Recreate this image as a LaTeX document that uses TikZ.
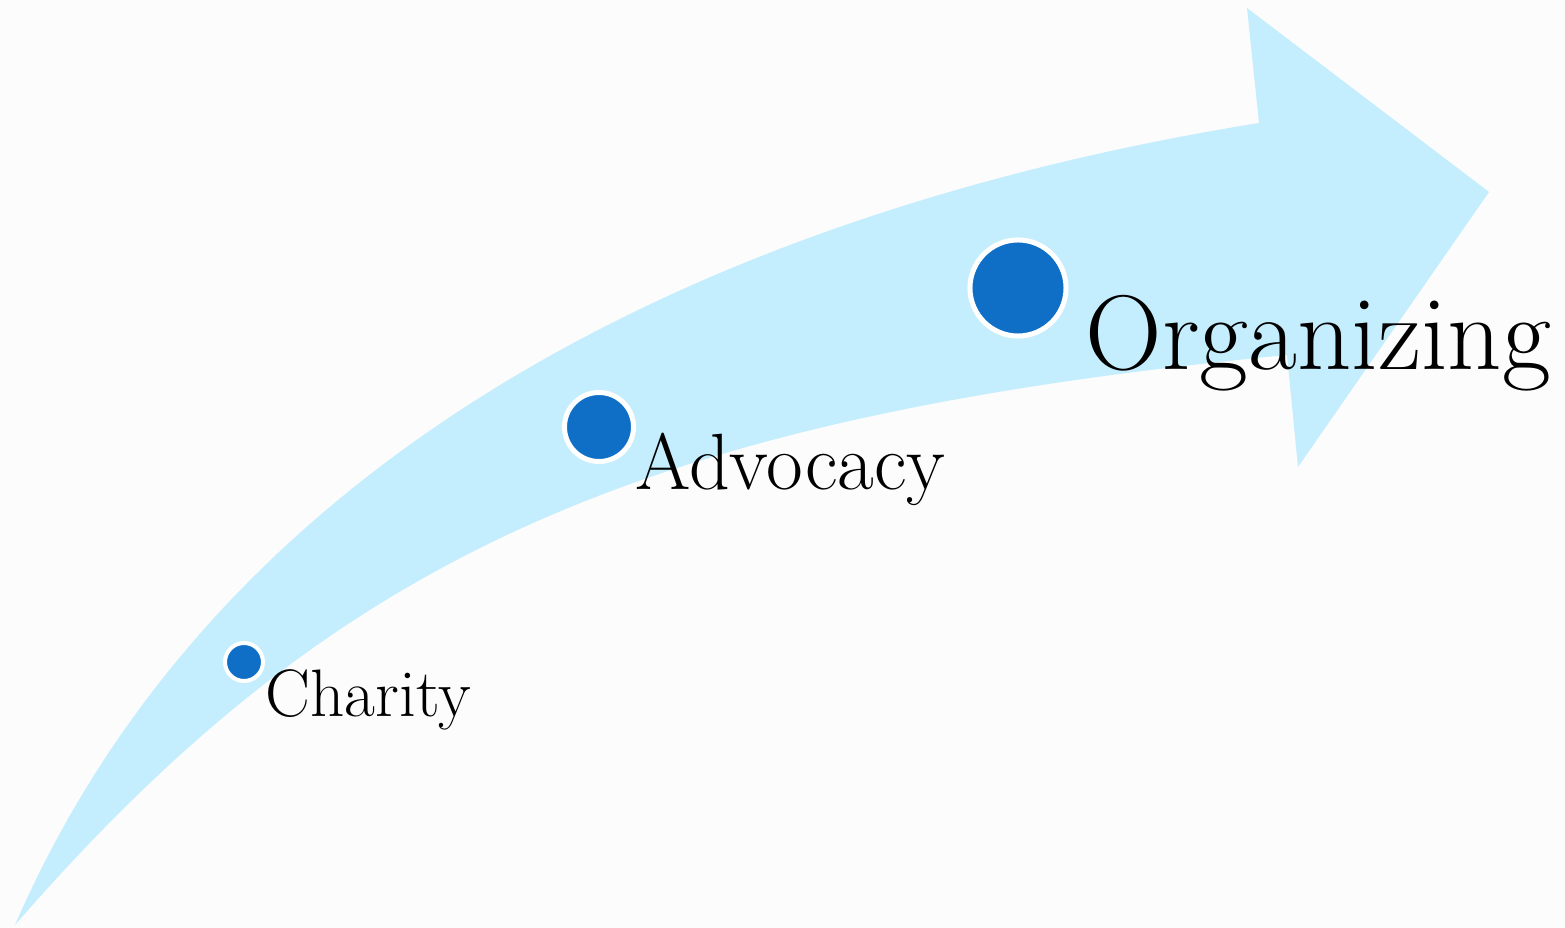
\documentclass[tikz,border=0pt]{standalone}
\definecolor{bandblue}{HTML}{C4EEFD}
\definecolor{dotblue}{HTML}{0F6FC6}
\definecolor{paper}{HTML}{FCFCFC}
\begin{document}
\begin{tikzpicture}[x=0.01cm, y=-0.01cm, line join=round, line cap=round,
  dot/.style={circle, fill=dotblue, draw=white, inner sep=0pt},
  stage/.style={anchor=base west, inner sep=0pt}]
 \fill[paper] (0,0) rectangle (1565,928);
 % curved band with its head
 \fill[bandblue] (15,925) .. controls (230,430) and (750,205) .. (1259,123)
   -- (1247,8) -- (1489,192) -- (1298,467) -- (1287,355)
   .. controls (637,418) and (335,557) .. cycle;
 \node[dot, minimum size=0.38cm, line width=0.04cm] (charity) at (244,662) {};
 \node[dot, minimum size=0.69cm, line width=0.05cm] (advocacy) at (599,427) {};
 \node[dot, minimum size=0.96cm, line width=0.05cm] (organizing) at (1018,288) {};
 \node[stage, font=\fontsize{19.1}{21}\selectfont] (charitytext) at (265,717) {Charity};
 \node[stage, font=\fontsize{22.7}{25}\selectfont] (advocacytext) at (635,490) {Advocacy};
 \node[stage, font=\fontsize{30.2}{33}\selectfont] (organizingtext) at (1085,370) {Organizing};
\end{tikzpicture}
\end{document}
